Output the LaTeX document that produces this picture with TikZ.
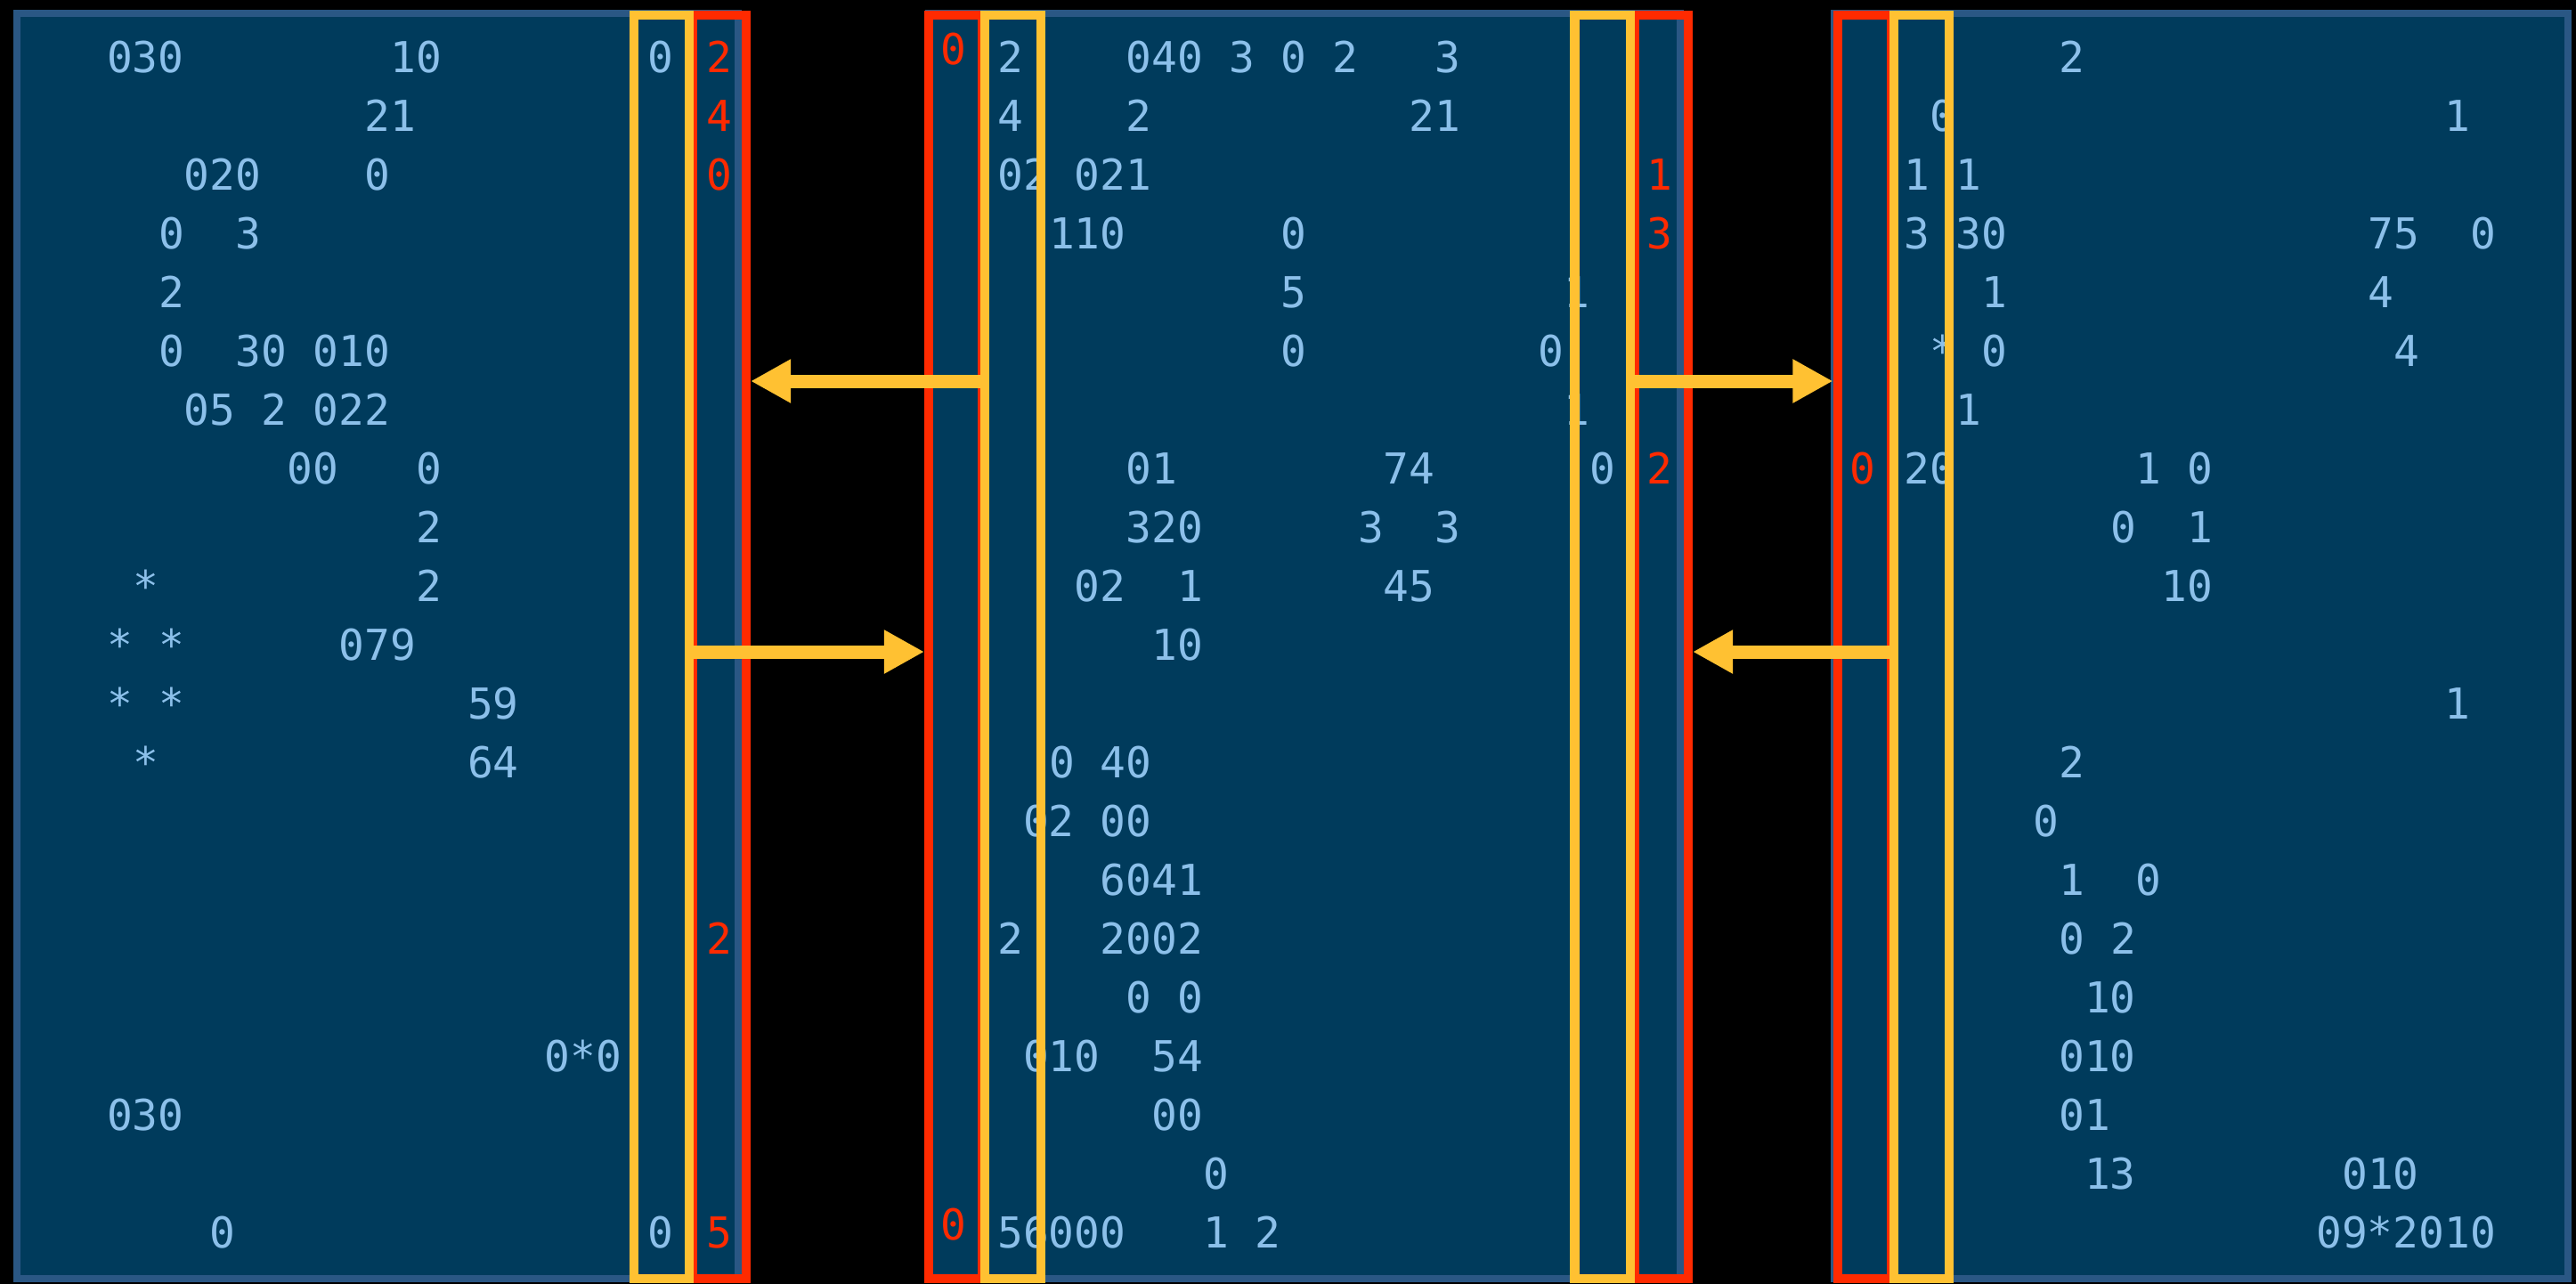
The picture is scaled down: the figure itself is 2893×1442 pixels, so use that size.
\documentclass[tikz,border=0pt]{standalone}
\usepackage{fontspec}
\setmonofont{DejaVu Sans Mono}[RawFeature=+zero]
\usepackage{xcolor}
\usetikzlibrary{arrows.meta,calc}
\definecolor{panelfill}{HTML}{003B5C}
\definecolor{panelrim}{HTML}{2A5784}
\definecolor{cellblue}{HTML}{8CC0EA}
\definecolor{sendyellow}{HTML}{FFC132}
\definecolor{ghostred}{HTML}{FF2A00}

\begin{document}
\begin{tikzpicture}[
    x=0.01cm, y=-0.01cm,
    panel/.style={draw=panelrim, fill=panelfill, line width=0.08cm},
    cell/.style={anchor=base west, inner sep=0pt, text=cellblue, font=\ttfamily\fontsize{13.6}{16}\selectfont},
    ghost/.style={anchor=base, inner sep=0pt, text=ghostred, font=\ttfamily\fontsize{13.6}{16}\selectfont},
    sendbox/.style={rectangle, draw=sendyellow, line width=0.1cm, minimum width=0.62cm, minimum height=14.19cm, inner sep=0pt},
    ghostbox/.style={rectangle, draw=ghostred, line width=0.1cm, minimum width=0.6cm, minimum height=14.19cm, inner sep=0pt},
    xfer/.style={-{Triangle[length=0.45cm, width=0.46cm]}, draw=sendyellow, line width=0.15cm}
]
    \useasboundingbox (0,0) rectangle (2893,1442);
    \fill[black] (0,0) rectangle (2893,1442);

    \draw[panel] (19,15) rectangle (829,1436);
    \draw[panel] (1043,15) rectangle (1887,1436);
    \draw[panel] (2060,15) rectangle (2884,1436);

    \begin{scope}[shift={(119.5,81)}, x=0.289cm, y=-0.66cm]
        \foreach \c/\r/\t in {0/0/030, 11/0/10, 21/0/0, 10/1/21, 3/2/020, 10/2/0,
            2/3/0, 5/3/3, 2/4/2, 2/5/0, 5/5/30, 8/5/010, 3/6/05, 6/6/2, 8/6/022,
            7/7/00, 12/7/0, 12/8/2, 1/9/*, 12/9/2, 0/10/*, 2/10/*, 9/10/079,
            0/11/*, 2/11/*, 14/11/59, 1/12/*, 14/12/64, 17/17/0*0, 0/18/030,
            4/20/0, 21/20/0}
            \node[cell] (p1-\c-\r) at (\c,\r) {\t};
    \end{scope}

    \begin{scope}[shift={(1119.5,81)}, x=0.289cm, y=-0.66cm]
        \foreach \c/\r/\t in {0/0/2, 5/0/040, 9/0/3, 11/0/0, 13/0/2, 17/0/3,
            0/1/4, 5/1/2, 16/1/21, 0/2/02, 3/2/021, 2/3/110, 11/3/0,
            11/4/5, 22/4/1, 11/5/0, 21/5/0, 22/6/1, 5/7/01, 15/7/74, 23/7/0,
            5/8/320, 14/8/3, 17/8/3, 3/9/02, 7/9/1, 15/9/45, 6/10/10,
            2/12/0, 4/12/40, 1/13/02, 4/13/00, 4/14/6041, 0/15/2, 4/15/2002,
            5/16/0, 7/16/0, 1/17/010, 6/17/54, 6/18/00, 8/19/0,
            0/20/56000, 8/20/1, 10/20/2}
            \node[cell] (p2-\c-\r) at (\c,\r) {\t};
    \end{scope}

    \begin{scope}[shift={(2138,81)}, x=0.289cm, y=-0.66cm]
        \foreach \c/\r/\t in {6/0/2, 1/1/0, 21/1/1, 0/2/1, 2/2/1,
            0/3/3, 2/3/30, 18/3/75, 22/3/0, 3/4/1, 18/4/4, 1/5/*, 3/5/0, 19/5/4,
            2/6/1, 0/7/20, 9/7/1, 11/7/0, 8/8/0, 11/8/1, 10/9/10, 21/11/1,
            6/12/2, 5/13/0, 6/14/1, 9/14/0, 6/15/0, 8/15/2, 7/16/10,
            6/17/010, 6/18/01, 7/19/13, 17/19/010, 16/20/09*2010}
            \node[cell] (p3-\c-\r) at (\c,\r) {\t};
    \end{scope}

    \foreach \r/\t in {0/2, 1/4, 2/0, 15/2, 20/5}
        \node[ghost] (g1-\r) at (808,{81+66*\r}) {\t};
    \foreach \r/\t in {0/0, 20/0}
        \node[ghost] (g2l-\r) at (1071,{72+66*\r}) {\t};
    \foreach \r/\t in {2/1, 3/3, 7/2}
        \node[ghost] (g2r-\r) at (1864,{81+66*\r}) {\t};
    \node[ghost] (g3-7) at (2092,{81+66*7}) {0};

    \node[ghostbox] (r1) at (808,726.5) {};
    \node[ghostbox] (r2l) at (1073,726.5) {};
    \node[ghostbox] (r2r) at (1866,726.5) {};
    \node[ghostbox] (r3) at (2093.5,726.5) {};
    \node[sendbox] (y1) at (743,726.5) {};
    \node[sendbox] (y2l) at (1137.5,726.5) {};
    \node[sendbox] (y2r) at (1799.5,726.5) {};
    \node[sendbox] (y3) at (2158,726.5) {};

    \coordinate (upper) at (0,428);
    \coordinate (lower) at (0,732);
    \draw[xfer] (y2l.west |- upper) -- (r1.east |- upper);
    \draw[xfer] (y2r.east |- upper) -- (r3.west |- upper);
    \draw[xfer] (y1.east |- lower) -- (r2l.west |- lower);
    \draw[xfer] (y3.west |- lower) -- (r2r.east |- lower);
\end{tikzpicture}
\end{document}
